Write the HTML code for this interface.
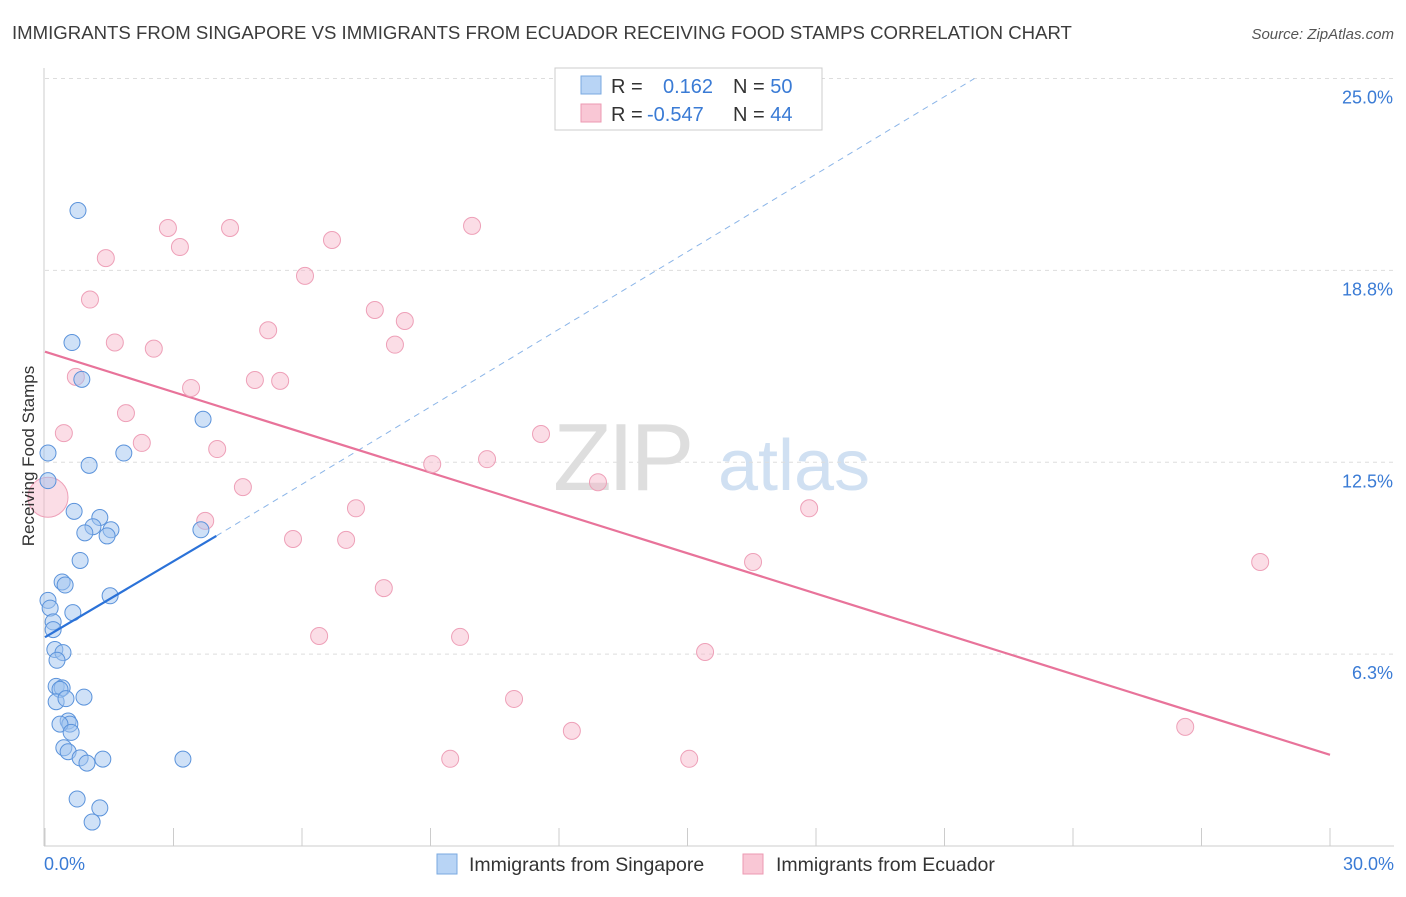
<!DOCTYPE html>
<html><head><meta charset="utf-8"><style>
body{margin:0;background:#fff;font-family:"Liberation Sans",sans-serif;}
svg text{font-family:"Liberation Sans",sans-serif;}
</style></head><body>
<svg id="chart" width="1406" height="892" xmlns="http://www.w3.org/2000/svg">
<text x="12" y="39" font-size="18.6" fill="#3c3c3c">IMMIGRANTS FROM SINGAPORE VS IMMIGRANTS FROM ECUADOR RECEIVING FOOD STAMPS CORRELATION CHART</text>
<text x="1394" y="39" font-size="15" fill="#555" font-style="italic" text-anchor="end">Source: ZipAtlas.com</text>
<g><text x="553" y="490" font-size="96" fill="#dedede" font-family="Liberation Serif,serif" letter-spacing="-4">ZIP</text><text x="718" y="490" font-size="72" fill="#d0e0f2">atlas</text></g>
<g id="grid"></g><g id="axes"></g><g id="lines"></g><g id="pts"></g>
<text transform="translate(34,456) rotate(-90)" font-size="17" fill="#333" text-anchor="middle">Receiving Food Stamps</text>
<g>
<rect x="555" y="68" width="267" height="62" fill="#fff" stroke="#ccc"/>
<rect x="581" y="76" width="20" height="18" fill="#b8d4f5" stroke="#7aa9e0"/>
<rect x="581" y="104" width="20" height="18" fill="#f9c7d5" stroke="#ec9ab2"/>
<text x="611" y="93" font-size="20" fill="#333">R = <tspan x="663" fill="#3a7bd5">0.162</tspan><tspan x="733" fill="#333">N = </tspan><tspan fill="#3a7bd5">50</tspan></text>
<text x="611" y="121" font-size="20" fill="#333">R = <tspan x="647" fill="#3a7bd5">-0.547</tspan><tspan x="733" fill="#333">N = </tspan><tspan fill="#3a7bd5">44</tspan></text>
</g>
<g>
<rect x="437" y="854" width="20" height="20" fill="#b8d4f5" stroke="#7aa9e0"/>
<text x="469" y="871" font-size="19.5" fill="#333">Immigrants from Singapore</text>
<rect x="743" y="854" width="20" height="20" fill="#f9c7d5" stroke="#ec9ab2"/>
<text x="776" y="871" font-size="19.5" fill="#333">Immigrants from Ecuador</text>
</g>
</svg>
<script>
const yTicks=[6.25,12.5,18.75,25];
const yTickLabels=["6.3%","12.5%","18.8%","25.0%"];
const xTickLabels=["0.0%","30.0%"];
const blueX=[0.77,0.63,0.86,3.69,1.84,0.07,1.03,0.07,0.68,1.28,1.12,1.54,0.93,1.45,3.64,0.82,0.4,0.47,1.52,0.07,0.12,0.65,0.19,0.19,0.23,0.42,0.28,0.26,0.4,0.35,0.91,0.26,0.49,0.54,0.58,0.35,0.61,0.44,0.54,0.82,0.98,1.35,3.22,0.75,1.28,1.1];
const blueY=[20.7,16.4,15.2,13.9,12.8,12.8,12.4,11.9,10.9,10.7,10.4,10.3,10.2,10.1,10.3,9.3,8.6,8.5,8.15,8.0,7.75,7.6,7.3,7.05,6.4,6.3,6.05,5.2,5.15,5.1,4.85,4.7,4.8,4.07,3.97,3.97,3.7,3.2,3.07,2.87,2.7,2.83,2.83,1.53,1.24,0.78];
const pinkX=[0.07,2.87,4.32,3.15,9.97,6.7,1.42,6.07,1.05,7.7,8.4,5.21,1.63,8.17,2.54,0.72,4.9,5.49,3.41,1.89,0.44,2.26,11.58,4.02,10.32,9.04,12.91,4.62,7.26,17.84,3.74,5.79,7.03,16.53,28.37,7.91,6.4,9.69,15.41,10.95,12.3,26.62,9.46,15.04];
const pinkY=[11.36,20.13,20.13,19.51,20.2,19.74,19.15,18.57,17.8,17.46,17.1,16.8,16.4,16.33,16.2,15.28,15.18,15.15,14.92,14.1,13.45,13.13,13.42,12.93,12.6,12.44,11.85,11.69,11.0,11.0,10.59,10.0,9.97,9.25,9.25,8.4,6.84,6.81,6.32,4.79,3.75,3.88,2.84,2.84];
const pinkR=[20];
const blueLine=[[0,6.8],[4,10.1]], blueDash=[[4,10.1],[21.7,25]];
const pinkLine=[[0,16.1],[30,2.97]];
const X=v=>45+v*1285/30, Y=v=>846-v*30.7;
const ns="http://www.w3.org/2000/svg";
function mk(tag,at,parent){const e=document.createElementNS(ns,tag);for(const k in at)e.setAttribute(k,at[k]);document.getElementById(parent).appendChild(e);return e;}
yTicks.forEach((t,i)=>{
 const g=mk('line',{x1:45,x2:1394,y1:Y(t),y2:Y(t),stroke:'#ddd','stroke-dasharray':'4,4'},'grid');
 
 
 const l=mk('text',{x:1393,y:Y(t)+25,'font-size':18,fill:'#3a7bd5','text-anchor':'end'},'axes');l.textContent=yTickLabels[i];
 
 
});
mk('line',{x1:44,x2:44,y1:68,y2:846,stroke:'#ccc'},'axes');
mk('line',{x1:44,x2:1394,y1:846,y2:846,stroke:'#ccc'},'axes');
for(let i=0;i<=10;i++){const t=mk('line',{x1:X(i*3),x2:X(i*3),y1:828,y2:846,stroke:'#ccc'},'axes');
 
 }
[[0,'start',44],[30,'end',1394]].forEach((d,i)=>{const t=mk('text',{x:d[2],y:870,'font-size':18,fill:'#3a7bd5','text-anchor':d[1]},'axes');t.textContent=xTickLabels[i];
 
 });
let e=mk('line',{x1:X(blueDash[0][0]),y1:Y(blueDash[0][1]),x2:X(blueDash[1][0]),y2:Y(blueDash[1][1]),stroke:'#8bb5e8','stroke-dasharray':'6,5','stroke-width':1},'lines');


e=mk('line',{x1:X(pinkLine[0][0]),y1:Y(pinkLine[0][1]),x2:X(pinkLine[1][0]),y2:Y(pinkLine[1][1]),stroke:'#e8739a','stroke-width':2.2},'lines');


pinkX.forEach((x,i)=>{const c=mk('circle',{cx:X(x),cy:Y(pinkY[i]),r:i===0?pinkR[0]:8.5,fill:'rgba(246,180,200,0.45)',stroke:'#eea0b8','stroke-width':1},'pts');
 
 });
blueX.forEach((x,i)=>{const c=mk('circle',{cx:X(x),cy:Y(blueY[i]),r:8,fill:'rgba(160,196,240,0.5)',stroke:'#5b93db','stroke-width':1},'pts');
 
 });
e=mk('line',{x1:X(blueLine[0][0]),y1:Y(blueLine[0][1]),x2:X(blueLine[1][0]),y2:Y(blueLine[1][1]),stroke:'#2b72d8','stroke-width':2.2},'pts');


</script>
</body></html>
